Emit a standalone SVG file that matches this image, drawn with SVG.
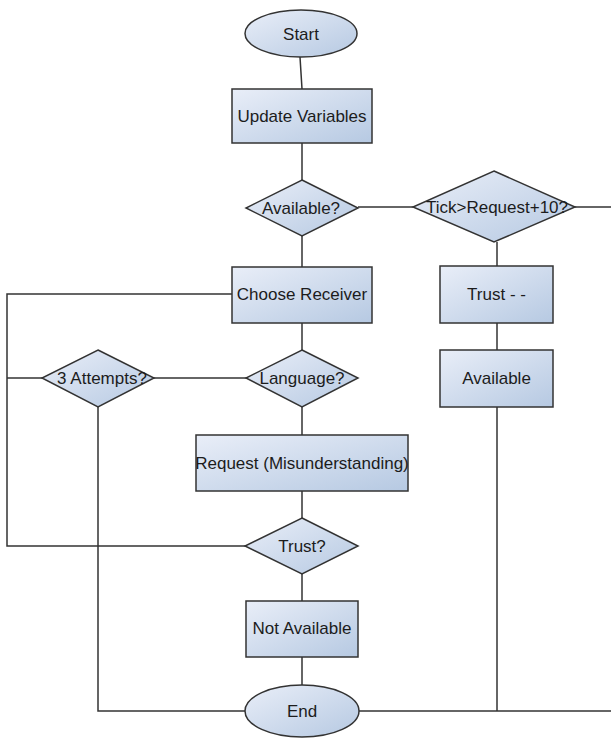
<svg xmlns="http://www.w3.org/2000/svg" width="611" height="740" viewBox="0 0 611 740">
  <defs>
    <linearGradient id="fill" x1="0" y1="0" x2="1" y2="1">
      <stop offset="0" stop-color="#e9eef8"/>
      <stop offset="1" stop-color="#b6c9e2"/>
    </linearGradient>
    <style>
      .shape { fill: url(#fill); stroke: #333; stroke-width: 1.5; }
      .wire { fill: none; stroke: #333; stroke-width: 1.5; }
      text { font-family: "Liberation Sans", Arial, sans-serif; font-size: 17px; fill: #1c1c1c; text-anchor: middle; }
    </style>
  </defs>
  <rect width="611" height="740" fill="#ffffff"/>

  <g id="connectors">
    <line class="wire" x1="300" y1="57" x2="302" y2="89"/>
    <line class="wire" x1="302" y1="143" x2="302" y2="180"/>
    <line class="wire" x1="302" y1="236" x2="302" y2="267"/>
    <line class="wire" x1="358" y1="207" x2="413" y2="207"/>
    <line class="wire" x1="575" y1="207" x2="611" y2="207"/>
    <line class="wire" x1="497" y1="242" x2="497" y2="266"/>
    <line class="wire" x1="497" y1="323" x2="497" y2="350"/>
    <polyline class="wire" points="497,407 497,711"/>
    <polyline class="wire" points="232,294 7,294 7,546 245,546"/>
    <line class="wire" x1="7" y1="378" x2="42" y2="378"/>
    <line class="wire" x1="154" y1="378" x2="246" y2="378"/>
    <line class="wire" x1="302" y1="323" x2="302" y2="350"/>
    <line class="wire" x1="302" y1="407" x2="302" y2="435"/>
    <line class="wire" x1="302" y1="491" x2="302" y2="518"/>
    <line class="wire" x1="302" y1="574" x2="302" y2="601"/>
    <line class="wire" x1="302" y1="657" x2="302" y2="685"/>
    <polyline class="wire" points="98,407 98,711 245,711"/>
    <line class="wire" x1="359" y1="711" x2="611" y2="711"/>
  </g>

  <g id="start">
    <ellipse class="shape" cx="301" cy="33.5" rx="56" ry="23.5"/>
    <text x="301" y="39.5">Start</text>
  </g>
  <g id="update-variables">
    <rect class="shape" x="232" y="89" width="140" height="54"/>
    <text x="302" y="122">Update Variables</text>
  </g>
  <g id="available-q">
    <polygon class="shape" points="302,180 358,208 302,236 246,208"/>
    <text x="301" y="214">Available?</text>
  </g>
  <g id="tick-check">
    <polygon class="shape" points="494,171 575,207 494,242 413,207"/>
    <text x="497" y="213">Tick&gt;Request+10?</text>
  </g>
  <g id="choose-receiver">
    <rect class="shape" x="232" y="267" width="140" height="56"/>
    <text x="302" y="300">Choose Receiver</text>
  </g>
  <g id="trust-decrement">
    <rect class="shape" x="440" y="266" width="113" height="57"/>
    <text x="496.5" y="300">Trust - -</text>
  </g>
  <g id="available">
    <rect class="shape" x="440" y="350" width="113" height="57"/>
    <text x="496.5" y="384">Available</text>
  </g>
  <g id="attempts-q">
    <polygon class="shape" points="98,350 154,378 98,407 42,378"/>
    <text x="102" y="384">3 Attempts?</text>
  </g>
  <g id="language-q">
    <polygon class="shape" points="302,350 358,378 302,407 246,378"/>
    <text x="302" y="384">Language?</text>
  </g>
  <g id="request">
    <rect class="shape" x="196" y="435" width="212" height="56"/>
    <text x="302" y="469">Request (Misunderstanding)</text>
  </g>
  <g id="trust-q">
    <polygon class="shape" points="302,518 358,546 302,574 245,546"/>
    <text x="302" y="552">Trust?</text>
  </g>
  <g id="not-available">
    <rect class="shape" x="246" y="601" width="112" height="56"/>
    <text x="302" y="634">Not Available</text>
  </g>
  <g id="end">
    <ellipse class="shape" cx="302" cy="711" rx="57" ry="26"/>
    <text x="302" y="717">End</text>
  </g>
</svg>
